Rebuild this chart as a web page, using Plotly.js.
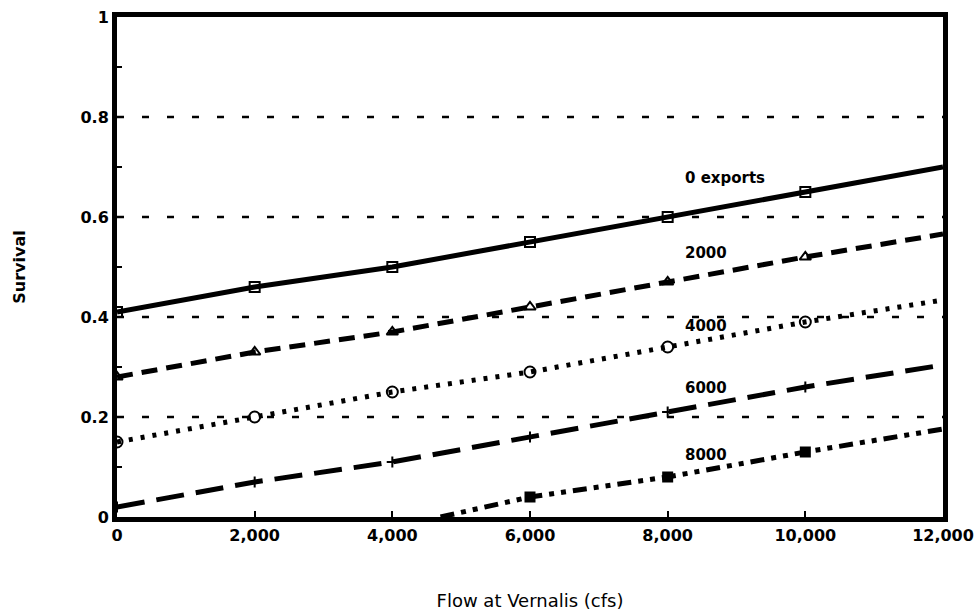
<!DOCTYPE html>
<html><head><meta charset="utf-8">
<script src="https://cdn.plot.ly/plotly-3.0.1.min.js"></script>
<style>html,body{margin:0;padding:0;background:#fff}#chart{width:979px;height:616px}</style>
</head><body><div id="chart"></div>
<script>
// Data
const flow = [0, 2000, 4000, 6000, 8000, 10000, 12000];
const exports0 = [0.41, 0.46, 0.50, 0.55, 0.60, 0.65, 0.70];
const exports2000 = [0.28, 0.33, 0.37, 0.42, 0.47, 0.52, 0.566];
const exports4000 = [0.15, 0.20, 0.25, 0.29, 0.34, 0.39, 0.434];
const exports6000 = [0.02, 0.07, 0.11, 0.16, 0.21, 0.26, 0.304];
const flow8000 = [4700, 6000, 8000, 10000, 12000];
const exports8000 = [0.0, 0.04, 0.08, 0.13, 0.176];
const seriesLabels = ["0 exports", "2000", "4000", "6000", "8000"];
const labelY = [0.678, 0.528, 0.382, 0.258, 0.124];
const yTickVals = [0, 0.2, 0.4, 0.6, 0.8, 1];
const yTickText = ["0", "0.2", "0.4", "0.6", "0.8", "1"];
const xTickVals = [0, 2000, 4000, 6000, 8000, 10000, 12000];
const xTickText = ["0", "2,000", "4,000", "6,000", "8,000", "10,000", "12,000"];

const series = [
  {x: flow, y: exports0, dash: "solid", width: 5, sym: "square-open", msize: 10, mark: [0,1,2,3,4,5]},
  {x: flow, y: exports2000, dash: "16px,9px", width: 5, sym: "triangle-up-open", msize: 10, mark: [0,1,2,3,4,5]},
  {x: flow, y: exports4000, dash: "4px,8px", width: 5, sym: "circle-open", msize: 11, mark: [0,1,2,3,4,5]},
  {x: flow, y: exports6000, dash: "28px,12px", width: 5, sym: "cross-thin-open", msize: 8, mark: [0,1,2,3,4,5]},
  {x: flow8000, y: exports8000, dash: "14px,7px,5px,7px,5px,7px", width: 5, sym: "square", msize: 9, mark: [1,2,3]}
];

const traces = [];
series.forEach(s => {
  traces.push({x: s.x, y: s.y, type: "scatter", mode: "lines",
    line: {color: "#000", width: s.width, dash: s.dash}, hoverinfo: "skip", showlegend: false});
  traces.push({x: s.mark.map(i => s.x[i]), y: s.mark.map(i => s.y[i]), type: "scatter", mode: "markers",
    marker: {symbol: s.sym, size: s.msize, color: "#000", line: {color: "#000", width: 2}},
    hoverinfo: "skip", showlegend: false});
});

const gridShapes = [0.2, 0.4, 0.6, 0.8].map(v => ({
  type: "line", xref: "paper", yref: "y", x0: 0, x1: 1, y0: v, y1: v,
  line: {color: "#000", width: 2.5, dash: "7px,18px"}, layer: "below"
}));

const annotations = seriesLabels.map((t, i) => ({
  x: 8220, y: labelY[i], xref: "x", yref: "y", text: t, showarrow: false,
  xanchor: "left", yanchor: "middle",
  font: {family: "DejaVu Sans", size: 15, color: "#000", weight: "bold"}
}));

const tickFont = {family: "DejaVu Sans", size: 16, color: "#000", weight: "bold"};

const layout = {
  width: 979, height: 616,
  margin: {l: 117, r: 36, t: 17, b: 99},
  paper_bgcolor: "#fff", plot_bgcolor: "#fff",
  showlegend: false,
  xaxis: {
    range: [0, 12000], tickvals: xTickVals, ticktext: xTickText,
    showgrid: false, zeroline: false, showline: true, linecolor: "#000", linewidth: 5, mirror: true,
    ticks: "inside", ticklen: 6, tickwidth: 2, tickcolor: "#000",
    tickfont: tickFont,
    title: {text: "Flow at Vernalis (cfs)", standoff: 52, font: {family: "DejaVu Sans", size: 18, color: "#000"}}
  },
  yaxis: {
    range: [0, 1], tickvals: yTickVals, ticktext: yTickText,
    showgrid: false, zeroline: false, showline: true, linecolor: "#000", linewidth: 5, mirror: true,
    ticks: "inside", ticklen: 6, tickwidth: 2, tickcolor: "#000",
    minor: {dtick: 0.1, ticks: "inside", ticklen: 5, tickwidth: 2, tickcolor: "#000", showgrid: false},
    tickfont: tickFont,
    title: {text: "Survival", standoff: 52, font: {family: "DejaVu Sans", size: 16, color: "#000", weight: "bold"}}
  },
  shapes: gridShapes,
  annotations: annotations
};

Plotly.newPlot("chart", traces, layout, {staticPlot: true, displayModeBar: false});
</script></body></html>
